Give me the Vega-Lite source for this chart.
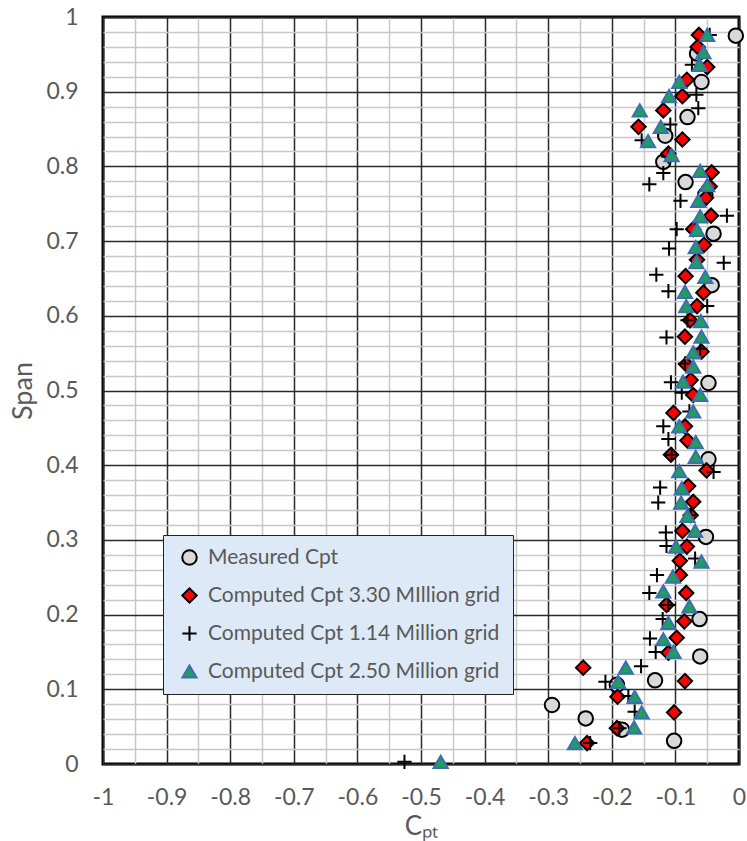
{
  "$schema": "https://vega.github.io/schema/vega-lite/v6.json",
  "autosize": {"type": "none"},
  "padding": {"left": 103, "top": 17, "right": 8, "bottom": 77},
  "width": 636,
  "height": 747,
  "background": "white",
  "config": {
    "view": {"stroke": "black", "strokeWidth": 3},
    "font": "Lato"
  },
  "datasets": {
    "pts": [
      {"series": "Measured Cpt", "cpt": -0.005, "span": 0.975},
      {"series": "Measured Cpt", "cpt": -0.066, "span": 0.951},
      {"series": "Measured Cpt", "cpt": -0.059, "span": 0.913},
      {"series": "Measured Cpt", "cpt": -0.081, "span": 0.866},
      {"series": "Measured Cpt", "cpt": -0.116, "span": 0.841},
      {"series": "Measured Cpt", "cpt": -0.119, "span": 0.806},
      {"series": "Measured Cpt", "cpt": -0.084, "span": 0.779},
      {"series": "Measured Cpt", "cpt": -0.053, "span": 0.762},
      {"series": "Measured Cpt", "cpt": -0.040, "span": 0.710},
      {"series": "Measured Cpt", "cpt": -0.043, "span": 0.641},
      {"series": "Measured Cpt", "cpt": -0.048, "span": 0.510},
      {"series": "Measured Cpt", "cpt": -0.048, "span": 0.408},
      {"series": "Measured Cpt", "cpt": -0.052, "span": 0.304},
      {"series": "Measured Cpt", "cpt": -0.062, "span": 0.194},
      {"series": "Measured Cpt", "cpt": -0.061, "span": 0.144},
      {"series": "Measured Cpt", "cpt": -0.132, "span": 0.112},
      {"series": "Measured Cpt", "cpt": -0.192, "span": 0.106},
      {"series": "Measured Cpt", "cpt": -0.294, "span": 0.079},
      {"series": "Measured Cpt", "cpt": -0.241, "span": 0.061},
      {"series": "Measured Cpt", "cpt": -0.184, "span": 0.046},
      {"series": "Measured Cpt", "cpt": -0.102, "span": 0.031},

      {"series": "Computed Cpt 3.30 MIllion grid", "cpt": -0.063, "span": 0.976},
      {"series": "Computed Cpt 3.30 MIllion grid", "cpt": -0.065, "span": 0.960},
      {"series": "Computed Cpt 3.30 MIllion grid", "cpt": -0.050, "span": 0.933},
      {"series": "Computed Cpt 3.30 MIllion grid", "cpt": -0.082, "span": 0.916},
      {"series": "Computed Cpt 3.30 MIllion grid", "cpt": -0.089, "span": 0.894},
      {"series": "Computed Cpt 3.30 MIllion grid", "cpt": -0.119, "span": 0.875},
      {"series": "Computed Cpt 3.30 MIllion grid", "cpt": -0.158, "span": 0.853},
      {"series": "Computed Cpt 3.30 MIllion grid", "cpt": -0.089, "span": 0.836},
      {"series": "Computed Cpt 3.30 MIllion grid", "cpt": -0.111, "span": 0.817},
      {"series": "Computed Cpt 3.30 MIllion grid", "cpt": -0.043, "span": 0.792},
      {"series": "Computed Cpt 3.30 MIllion grid", "cpt": -0.046, "span": 0.773},
      {"series": "Computed Cpt 3.30 MIllion grid", "cpt": -0.052, "span": 0.758},
      {"series": "Computed Cpt 3.30 MIllion grid", "cpt": -0.044, "span": 0.734},
      {"series": "Computed Cpt 3.30 MIllion grid", "cpt": -0.072, "span": 0.716},
      {"series": "Computed Cpt 3.30 MIllion grid", "cpt": -0.055, "span": 0.695},
      {"series": "Computed Cpt 3.30 MIllion grid", "cpt": -0.066, "span": 0.675},
      {"series": "Computed Cpt 3.30 MIllion grid", "cpt": -0.084, "span": 0.653},
      {"series": "Computed Cpt 3.30 MIllion grid", "cpt": -0.056, "span": 0.631},
      {"series": "Computed Cpt 3.30 MIllion grid", "cpt": -0.066, "span": 0.613},
      {"series": "Computed Cpt 3.30 MIllion grid", "cpt": -0.077, "span": 0.594},
      {"series": "Computed Cpt 3.30 MIllion grid", "cpt": -0.085, "span": 0.572},
      {"series": "Computed Cpt 3.30 MIllion grid", "cpt": -0.059, "span": 0.552},
      {"series": "Computed Cpt 3.30 MIllion grid", "cpt": -0.083, "span": 0.535},
      {"series": "Computed Cpt 3.30 MIllion grid", "cpt": -0.076, "span": 0.514},
      {"series": "Computed Cpt 3.30 MIllion grid", "cpt": -0.072, "span": 0.494},
      {"series": "Computed Cpt 3.30 MIllion grid", "cpt": -0.103, "span": 0.470},
      {"series": "Computed Cpt 3.30 MIllion grid", "cpt": -0.085, "span": 0.452},
      {"series": "Computed Cpt 3.30 MIllion grid", "cpt": -0.081, "span": 0.433},
      {"series": "Computed Cpt 3.30 MIllion grid", "cpt": -0.107, "span": 0.414},
      {"series": "Computed Cpt 3.30 MIllion grid", "cpt": -0.051, "span": 0.393},
      {"series": "Computed Cpt 3.30 MIllion grid", "cpt": -0.080, "span": 0.372},
      {"series": "Computed Cpt 3.30 MIllion grid", "cpt": -0.072, "span": 0.351},
      {"series": "Computed Cpt 3.30 MIllion grid", "cpt": -0.076, "span": 0.333},
      {"series": "Computed Cpt 3.30 MIllion grid", "cpt": -0.089, "span": 0.312},
      {"series": "Computed Cpt 3.30 MIllion grid", "cpt": -0.082, "span": 0.291},
      {"series": "Computed Cpt 3.30 MIllion grid", "cpt": -0.093, "span": 0.272},
      {"series": "Computed Cpt 3.30 MIllion grid", "cpt": -0.093, "span": 0.253},
      {"series": "Computed Cpt 3.30 MIllion grid", "cpt": -0.083, "span": 0.229},
      {"series": "Computed Cpt 3.30 MIllion grid", "cpt": -0.114, "span": 0.213},
      {"series": "Computed Cpt 3.30 MIllion grid", "cpt": -0.086, "span": 0.191},
      {"series": "Computed Cpt 3.30 MIllion grid", "cpt": -0.098, "span": 0.169},
      {"series": "Computed Cpt 3.30 MIllion grid", "cpt": -0.111, "span": 0.149},
      {"series": "Computed Cpt 3.30 MIllion grid", "cpt": -0.245, "span": 0.129},
      {"series": "Computed Cpt 3.30 MIllion grid", "cpt": -0.085, "span": 0.111},
      {"series": "Computed Cpt 3.30 MIllion grid", "cpt": -0.191, "span": 0.090},
      {"series": "Computed Cpt 3.30 MIllion grid", "cpt": -0.102, "span": 0.069},
      {"series": "Computed Cpt 3.30 MIllion grid", "cpt": -0.192, "span": 0.048},
      {"series": "Computed Cpt 3.30 MIllion grid", "cpt": -0.239, "span": 0.028},

      {"series": "Computed Cpt 1.14 Million grid", "cpt": -0.046, "span": 0.976},
      {"series": "Computed Cpt 1.14 Million grid", "cpt": -0.074, "span": 0.936},
      {"series": "Computed Cpt 1.14 Million grid", "cpt": -0.067, "span": 0.896},
      {"series": "Computed Cpt 1.14 Million grid", "cpt": -0.064, "span": 0.878},
      {"series": "Computed Cpt 1.14 Million grid", "cpt": -0.108, "span": 0.856},
      {"series": "Computed Cpt 1.14 Million grid", "cpt": -0.153, "span": 0.835},
      {"series": "Computed Cpt 1.14 Million grid", "cpt": -0.111, "span": 0.813},
      {"series": "Computed Cpt 1.14 Million grid", "cpt": -0.119, "span": 0.791},
      {"series": "Computed Cpt 1.14 Million grid", "cpt": -0.141, "span": 0.776},
      {"series": "Computed Cpt 1.14 Million grid", "cpt": -0.092, "span": 0.754},
      {"series": "Computed Cpt 1.14 Million grid", "cpt": -0.019, "span": 0.734},
      {"series": "Computed Cpt 1.14 Million grid", "cpt": -0.098, "span": 0.716},
      {"series": "Computed Cpt 1.14 Million grid", "cpt": -0.110, "span": 0.690},
      {"series": "Computed Cpt 1.14 Million grid", "cpt": -0.024, "span": 0.671},
      {"series": "Computed Cpt 1.14 Million grid", "cpt": -0.130, "span": 0.655},
      {"series": "Computed Cpt 1.14 Million grid", "cpt": -0.111, "span": 0.633},
      {"series": "Computed Cpt 1.14 Million grid", "cpt": -0.050, "span": 0.613},
      {"series": "Computed Cpt 1.14 Million grid", "cpt": -0.081, "span": 0.594},
      {"series": "Computed Cpt 1.14 Million grid", "cpt": -0.114, "span": 0.571},
      {"series": "Computed Cpt 1.14 Million grid", "cpt": -0.061, "span": 0.556},
      {"series": "Computed Cpt 1.14 Million grid", "cpt": -0.085, "span": 0.536},
      {"series": "Computed Cpt 1.14 Million grid", "cpt": -0.107, "span": 0.511},
      {"series": "Computed Cpt 1.14 Million grid", "cpt": -0.090, "span": 0.497},
      {"series": "Computed Cpt 1.14 Million grid", "cpt": -0.078, "span": 0.472},
      {"series": "Computed Cpt 1.14 Million grid", "cpt": -0.119, "span": 0.452},
      {"series": "Computed Cpt 1.14 Million grid", "cpt": -0.111, "span": 0.435},
      {"series": "Computed Cpt 1.14 Million grid", "cpt": -0.106, "span": 0.414},
      {"series": "Computed Cpt 1.14 Million grid", "cpt": -0.040, "span": 0.391},
      {"series": "Computed Cpt 1.14 Million grid", "cpt": -0.124, "span": 0.370},
      {"series": "Computed Cpt 1.14 Million grid", "cpt": -0.127, "span": 0.350},
      {"series": "Computed Cpt 1.14 Million grid", "cpt": -0.076, "span": 0.333},
      {"series": "Computed Cpt 1.14 Million grid", "cpt": -0.115, "span": 0.310},
      {"series": "Computed Cpt 1.14 Million grid", "cpt": -0.114, "span": 0.292},
      {"series": "Computed Cpt 1.14 Million grid", "cpt": -0.069, "span": 0.275},
      {"series": "Computed Cpt 1.14 Million grid", "cpt": -0.129, "span": 0.253},
      {"series": "Computed Cpt 1.14 Million grid", "cpt": -0.141, "span": 0.229},
      {"series": "Computed Cpt 1.14 Million grid", "cpt": -0.111, "span": 0.213},
      {"series": "Computed Cpt 1.14 Million grid", "cpt": -0.120, "span": 0.194},
      {"series": "Computed Cpt 1.14 Million grid", "cpt": -0.140, "span": 0.168},
      {"series": "Computed Cpt 1.14 Million grid", "cpt": -0.131, "span": 0.150},
      {"series": "Computed Cpt 1.14 Million grid", "cpt": -0.154, "span": 0.131},
      {"series": "Computed Cpt 1.14 Million grid", "cpt": -0.210, "span": 0.110},
      {"series": "Computed Cpt 1.14 Million grid", "cpt": -0.174, "span": 0.091},
      {"series": "Computed Cpt 1.14 Million grid", "cpt": -0.164, "span": 0.070},
      {"series": "Computed Cpt 1.14 Million grid", "cpt": -0.188, "span": 0.048},
      {"series": "Computed Cpt 1.14 Million grid", "cpt": -0.234, "span": 0.028},
      {"series": "Computed Cpt 1.14 Million grid", "cpt": -0.526, "span": 0.003},

      {"series": "Computed Cpt 2.50 Million grid", "cpt": -0.050, "span": 0.976},
      {"series": "Computed Cpt 2.50 Million grid", "cpt": -0.056, "span": 0.953},
      {"series": "Computed Cpt 2.50 Million grid", "cpt": -0.062, "span": 0.936},
      {"series": "Computed Cpt 2.50 Million grid", "cpt": -0.094, "span": 0.913},
      {"series": "Computed Cpt 2.50 Million grid", "cpt": -0.110, "span": 0.894},
      {"series": "Computed Cpt 2.50 Million grid", "cpt": -0.156, "span": 0.875},
      {"series": "Computed Cpt 2.50 Million grid", "cpt": -0.123, "span": 0.853},
      {"series": "Computed Cpt 2.50 Million grid", "cpt": -0.143, "span": 0.834},
      {"series": "Computed Cpt 2.50 Million grid", "cpt": -0.106, "span": 0.815},
      {"series": "Computed Cpt 2.50 Million grid", "cpt": -0.061, "span": 0.794},
      {"series": "Computed Cpt 2.50 Million grid", "cpt": -0.050, "span": 0.775},
      {"series": "Computed Cpt 2.50 Million grid", "cpt": -0.064, "span": 0.754},
      {"series": "Computed Cpt 2.50 Million grid", "cpt": -0.061, "span": 0.733},
      {"series": "Computed Cpt 2.50 Million grid", "cpt": -0.066, "span": 0.715},
      {"series": "Computed Cpt 2.50 Million grid", "cpt": -0.068, "span": 0.692},
      {"series": "Computed Cpt 2.50 Million grid", "cpt": -0.067, "span": 0.672},
      {"series": "Computed Cpt 2.50 Million grid", "cpt": -0.053, "span": 0.652},
      {"series": "Computed Cpt 2.50 Million grid", "cpt": -0.085, "span": 0.632},
      {"series": "Computed Cpt 2.50 Million grid", "cpt": -0.083, "span": 0.613},
      {"series": "Computed Cpt 2.50 Million grid", "cpt": -0.060, "span": 0.593},
      {"series": "Computed Cpt 2.50 Million grid", "cpt": -0.059, "span": 0.572},
      {"series": "Computed Cpt 2.50 Million grid", "cpt": -0.072, "span": 0.551},
      {"series": "Computed Cpt 2.50 Million grid", "cpt": -0.072, "span": 0.532},
      {"series": "Computed Cpt 2.50 Million grid", "cpt": -0.088, "span": 0.512},
      {"series": "Computed Cpt 2.50 Million grid", "cpt": -0.061, "span": 0.494},
      {"series": "Computed Cpt 2.50 Million grid", "cpt": -0.072, "span": 0.472},
      {"series": "Computed Cpt 2.50 Million grid", "cpt": -0.094, "span": 0.452},
      {"series": "Computed Cpt 2.50 Million grid", "cpt": -0.068, "span": 0.431},
      {"series": "Computed Cpt 2.50 Million grid", "cpt": -0.068, "span": 0.411},
      {"series": "Computed Cpt 2.50 Million grid", "cpt": -0.094, "span": 0.392},
      {"series": "Computed Cpt 2.50 Million grid", "cpt": -0.090, "span": 0.369},
      {"series": "Computed Cpt 2.50 Million grid", "cpt": -0.091, "span": 0.350},
      {"series": "Computed Cpt 2.50 Million grid", "cpt": -0.081, "span": 0.332},
      {"series": "Computed Cpt 2.50 Million grid", "cpt": -0.069, "span": 0.312},
      {"series": "Computed Cpt 2.50 Million grid", "cpt": -0.099, "span": 0.291},
      {"series": "Computed Cpt 2.50 Million grid", "cpt": -0.059, "span": 0.271},
      {"series": "Computed Cpt 2.50 Million grid", "cpt": -0.104, "span": 0.251},
      {"series": "Computed Cpt 2.50 Million grid", "cpt": -0.119, "span": 0.231},
      {"series": "Computed Cpt 2.50 Million grid", "cpt": -0.078, "span": 0.211},
      {"series": "Computed Cpt 2.50 Million grid", "cpt": -0.111, "span": 0.189},
      {"series": "Computed Cpt 2.50 Million grid", "cpt": -0.119, "span": 0.167},
      {"series": "Computed Cpt 2.50 Million grid", "cpt": -0.103, "span": 0.150},
      {"series": "Computed Cpt 2.50 Million grid", "cpt": -0.178, "span": 0.129},
      {"series": "Computed Cpt 2.50 Million grid", "cpt": -0.190, "span": 0.110},
      {"series": "Computed Cpt 2.50 Million grid", "cpt": -0.164, "span": 0.090},
      {"series": "Computed Cpt 2.50 Million grid", "cpt": -0.153, "span": 0.069},
      {"series": "Computed Cpt 2.50 Million grid", "cpt": -0.165, "span": 0.049},
      {"series": "Computed Cpt 2.50 Million grid", "cpt": -0.258, "span": 0.028},
      {"series": "Computed Cpt 2.50 Million grid", "cpt": -0.469, "span": 0.003}
    ]
  },
  "data": {"name": "pts"},
  "mark": {"type": "point", "filled": false, "opacity": 1, "clip": false},
  "encoding": {
    "x": {
      "field": "cpt",
      "type": "quantitative",
      "scale": {"domain": [-1, 0], "nice": false, "zero": false},
      "axis": {
        "title": "Cₚₜ",
        "titleFont": "Lato",
        "titleFontSize": 26,
        "titleFontWeight": "normal",
        "titleColor": "#595959",
        "titlePadding": 4,
        "values": [-1, -0.95, -0.9, -0.85, -0.8, -0.75, -0.7, -0.65, -0.6, -0.55, -0.5, -0.45, -0.4, -0.35, -0.3, -0.25, -0.2, -0.15, -0.1, -0.05, 0],
        "labelExpr": "abs(datum.value*10 - round(datum.value*10)) < 0.001 ? replace(format(datum.value, '~g'), '\u2212', '-') : ''",
        "labelFont": "Lato",
        "labelFontSize": 23,
        "labelColor": "#595959",
        "labelPadding": 22,
        "labelFlush": false,
        "labelOverlap": false,
        "ticks": false,
        "domain": false,
        "grid": true,
        "gridColor": {"condition": {"test": "abs(datum.value*10 - round(datum.value*10)) < 0.001", "value": "#2a2a2a"}, "value": "#c8c8c8"},
        "gridWidth": 1.5,
        "zindex": 0
      }
    },
    "y": {
      "field": "span",
      "type": "quantitative",
      "scale": {"domain": [0, 1], "nice": false, "zero": false},
      "axis": {
        "title": "Span",
        "titleFont": "Lato",
        "titleFontSize": 27,
        "titleFontWeight": "normal",
        "titleColor": "#595959",
        "titlePadding": 8,
        "values": [0, 0.02, 0.04, 0.06, 0.08, 0.1, 0.12, 0.14, 0.16, 0.18, 0.2, 0.22, 0.24, 0.26, 0.28, 0.3, 0.32, 0.34, 0.36, 0.38, 0.4, 0.42, 0.44, 0.46, 0.48, 0.5, 0.52, 0.54, 0.56, 0.58, 0.6, 0.62, 0.64, 0.66, 0.68, 0.7, 0.72, 0.74, 0.76, 0.78, 0.8, 0.82, 0.84, 0.86, 0.88, 0.9, 0.92, 0.94, 0.96, 0.98, 1],
        "labelExpr": "abs(datum.value*10 - round(datum.value*10)) < 0.001 ? format(datum.value, '~g') : ''",
        "labelFont": "Lato",
        "labelFontSize": 23,
        "labelColor": "#595959",
        "labelPadding": 25,
        "labelFlush": false,
        "labelOverlap": false,
        "ticks": false,
        "domain": false,
        "grid": true,
        "gridColor": {"condition": {"test": "abs(datum.value*10 - round(datum.value*10)) < 0.001", "value": "#2a2a2a"}, "value": "#c8c8c8"},
        "gridWidth": 1.5,
        "zindex": 0
      }
    },
    "shape": {
      "field": "series",
      "type": "nominal",
      "scale": {
        "domain": ["Measured Cpt", "Computed Cpt 3.30 MIllion grid", "Computed Cpt 1.14 Million grid", "Computed Cpt 2.50 Million grid"],
        "range": ["circle", "diamond", "M-1,0H1M0,-1V1", "triangle-up"]
      },
      "legend": {
        "title": null,
        "orient": "none",
        "legendX": 60,
        "legendY": 518,
        "fillColor": "#dde9f6",
        "strokeColor": "#222222",
        "padding": 12,
        "labelFont": "Lato",
        "labelFontSize": 21,
        "labelColor": "#595959",
        "labelLimit": 400,
        "labelOffset": 8,
        "rowPadding": 15,
        "symbolOffset": 4
      }
    },
    "fill": {
      "field": "series",
      "type": "nominal",
      "scale": {
        "domain": ["Measured Cpt", "Computed Cpt 3.30 MIllion grid", "Computed Cpt 1.14 Million grid", "Computed Cpt 2.50 Million grid"],
        "range": ["#d9d9d9", "#ff0000", "transparent", "#1f9e5c"]
      }
    },
    "stroke": {
      "field": "series",
      "type": "nominal",
      "scale": {
        "domain": ["Measured Cpt", "Computed Cpt 3.30 MIllion grid", "Computed Cpt 1.14 Million grid", "Computed Cpt 2.50 Million grid"],
        "range": ["#000000", "#000000", "#000000", "#3b6fb0"]
      }
    },
    "strokeWidth": {
      "field": "series",
      "type": "nominal",
      "scale": {
        "domain": ["Measured Cpt", "Computed Cpt 3.30 MIllion grid", "Computed Cpt 1.14 Million grid", "Computed Cpt 2.50 Million grid"],
        "range": [2, 2, 2.5, 1]
      }
    },
    "size": {
      "field": "series",
      "type": "nominal",
      "scale": {
        "domain": ["Measured Cpt", "Computed Cpt 3.30 MIllion grid", "Computed Cpt 1.14 Million grid", "Computed Cpt 2.50 Million grid"],
        "range": [210, 200, 150, 230]
      }
    }
  }
}
